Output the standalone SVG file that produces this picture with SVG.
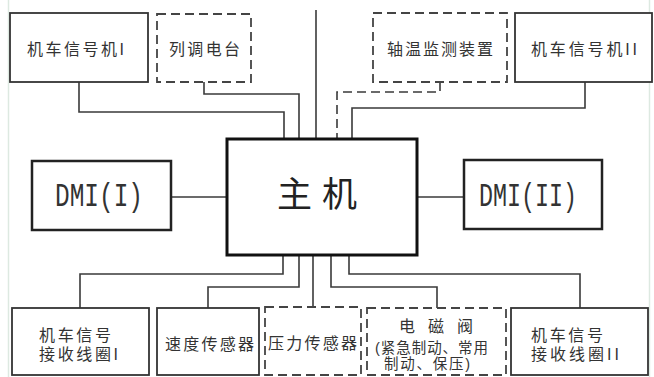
<svg xmlns="http://www.w3.org/2000/svg" width="654" height="377" viewBox="0 0 654 377">
<style>
.bg{fill:#ffffff}
.box{fill:#ffffff;stroke:#333333;stroke-width:1.8}
.dbox{fill:#ffffff;stroke:#444444;stroke-width:1.8;stroke-dasharray:9 5}
.main{fill:#ffffff;stroke:#111111;stroke-width:3}
.ln{fill:none;stroke:#3a3a3a;stroke-width:1.6}
.dln{fill:none;stroke:#3a3a3a;stroke-width:1.6;stroke-dasharray:9 5}
.t{font-family:"Liberation Sans","Noto Sans CJK SC",sans-serif;font-size:16px;fill:#333333}
.s{font-size:14.5px}
.dmi{font-family:"Liberation Mono",monospace;font-size:34px;fill:#333333}
.big{font-family:"Liberation Sans","Noto Sans CJK SC",sans-serif;font-size:35px;fill:#222222}
.edge{stroke:#dde9e1;stroke-width:1.5}
</style>
<rect class="bg" x="0" y="0" width="654" height="377"/>
<line class="edge" x1="8.5" y1="0" x2="8.5" y2="377"/>
<line class="edge" x1="649.5" y1="0" x2="649.5" y2="377"/>
<g id="connectors">
<polyline class="ln" points="79,82 79,112 284,112 284,139"/>
<polyline class="ln" points="204,82 204,94 299,94 299,139"/>
<line class="ln" x1="316" y1="10" x2="316" y2="139"/>
<polyline class="dln" points="440,82 440,92 337,92 337,139"/>
<polyline class="ln" points="585,82 585,108 352,108 352,139"/>
<line class="ln" x1="171" y1="197" x2="227" y2="197"/>
<line class="ln" x1="417" y1="197" x2="464" y2="197"/>
<polyline class="ln" points="283,255 283,274 80,274 80,308"/>
<polyline class="ln" points="299,255 299,287 208,287 208,308"/>
<line class="ln" x1="313" y1="255" x2="313" y2="307"/>
<polyline class="ln" points="331,255 331,287 437,287 437,308"/>
<polyline class="ln" points="349,255 349,274 580,274 580,308"/>
</g>
<g id="main">
<rect class="main" x="227" y="139" width="190" height="116"/>
<text class="big" x="317" y="207" text-anchor="middle" textLength="80" lengthAdjust="spacing">主 机</text>
</g>
<g id="signal1">
<rect class="box" x="10" y="13" width="138" height="69"/>
<text class="t" x="27" y="55" textLength="97" lengthAdjust="spacing">机车信号机I</text>
</g>
<g id="radio">
<rect class="dbox" x="157" y="14" width="94" height="68"/>
<text class="t" x="169" y="55" textLength="71" lengthAdjust="spacing">列调电台</text>
</g>
<g id="axle">
<rect class="dbox" x="373" y="13" width="134" height="69"/>
<text class="t" x="387" y="55" textLength="106" lengthAdjust="spacing">轴温监测装置</text>
</g>
<g id="signal2">
<rect class="box" x="515" y="13" width="137" height="69"/>
<text class="t" x="531" y="55" textLength="106" lengthAdjust="spacing">机车信号机II</text>
</g>
<g id="dmi1">
<rect class="box" x="32" y="161" width="139" height="69" style="stroke-width:2.5;stroke:#222"/>
<text class="dmi" x="55" y="206" textLength="88" lengthAdjust="spacingAndGlyphs">DMI(I)</text>
</g>
<g id="dmi2">
<rect class="box" x="464" y="160" width="138" height="69" style="stroke-width:2.5;stroke:#222"/>
<text class="dmi" x="479" y="206" textLength="98" lengthAdjust="spacingAndGlyphs">DMI(II)</text>
</g>
<g id="coil1">
<rect class="box" x="12" y="308" width="137" height="67"/>
<text class="t" x="39" y="341" textLength="72" lengthAdjust="spacing">机车信号</text>
<text class="t" x="39" y="360" textLength="79" lengthAdjust="spacing">接收线圈I</text>
</g>
<g id="speed">
<rect class="box" x="157" y="308" width="102" height="67"/>
<text class="t" x="165" y="350" textLength="89" lengthAdjust="spacing">速度传感器</text>
</g>
<g id="pressure">
<rect class="dbox" x="265" y="307" width="96" height="68"/>
<text class="t" x="268" y="349" textLength="89" lengthAdjust="spacing">压力传感器</text>
</g>
<g id="valve">
<rect class="dbox" x="367" y="308" width="139" height="67"/>
<text class="t" x="399" y="332" textLength="74" lengthAdjust="spacing">电 磁 阀</text>
<text class="t s" x="375" y="353" textLength="113" lengthAdjust="spacing">(紧急制动、常用</text>
<text class="t s" x="384" y="369" textLength="86" lengthAdjust="spacing">制动、保压)</text>
</g>
<g id="coil2">
<rect class="box" x="511" y="308" width="137" height="67"/>
<text class="t" x="531" y="341" textLength="72" lengthAdjust="spacing">机车信号</text>
<text class="t" x="531" y="360" textLength="88" lengthAdjust="spacing">接收线圈II</text>
</g>
</svg>
